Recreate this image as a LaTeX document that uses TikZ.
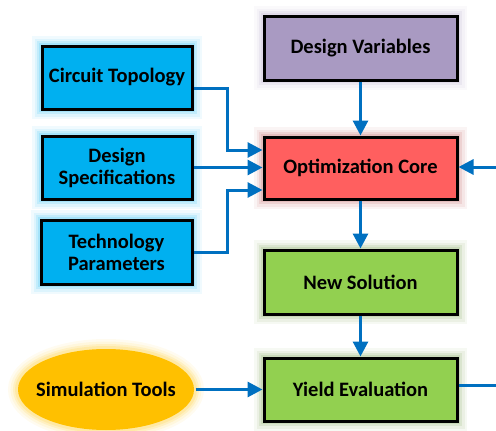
\documentclass[tikz,border=0pt]{standalone}
\usepackage{fontspec}
\setmainfont{Carlito}
\usetikzlibrary{arrows.meta,calc,shapes.geometric}
\definecolor{cblue}{HTML}{00B0F0}
\definecolor{cpurple}{HTML}{A99AC2}
\definecolor{cred}{HTML}{FF5F5F}
\definecolor{cgreen}{HTML}{92D050}
\definecolor{corange}{HTML}{FFC000}
\definecolor{carrow}{HTML}{0070C0}
\tikzset{
  glow/.style={preaction={draw=#1,line width=20pt,opacity=0.06},
               preaction={draw=#1,line width=15pt,opacity=0.08},
               preaction={draw=#1,line width=10pt,opacity=0.12},
               preaction={draw=#1,line width=6pt,opacity=0.15}},
  box/.style={draw=black,line width=3pt,inner sep=0pt,align=center,
              font=\fontsize{20.5}{22}\selectfont\bfseries},
  conn/.style={draw=carrow,line width=3pt},
  arr/.style={conn,-{Triangle[length=15pt,width=15pt]}},
}
\begin{document}
\begin{tikzpicture}[x=1pt,y=-1pt]
\useasboundingbox (0,0) rectangle (496,431);
\node[box,fill=cblue,glow=cblue,minimum width=150,minimum height=63] (ct) at (117,77.5) {Circuit Topology};
\node[box,fill=cblue,glow=cblue,minimum width=150,minimum height=63] (ds) at (117,167.5) {Design\\Specifications};
\node[box,fill=cblue,glow=cblue,minimum width=151,minimum height=64] (tp) at (116.5,252) {Technology\\Parameters};
\node[box,fill=cpurple,glow=cpurple,minimum width=193,minimum height=64] (dv) at (360.5,48) {Design Variables};
\node[box,fill=cred,glow=cred!70!black,minimum width=193,minimum height=62] (oc) at (360.5,168) {Optimization Core};
\node[box,fill=cgreen,glow=cgreen!70!black,minimum width=193,minimum height=64] (ns) at (360.5,282) {New Solution};
\node[box,fill=cgreen,glow=cgreen!70!black,minimum width=193,minimum height=63] (ye) at (360.5,389.5) {Yield Evaluation};
\node[box,draw=none,ellipse,fill=corange,glow=corange,minimum width=176,minimum height=81] (st) at (106,389.5) {\makebox[0pt]{Simulation Tools}};
\coordinate (j1) at (227,150);
\coordinate (j2) at (227,190);
\coordinate (fb1) at (496,385);
\coordinate (fb2) at (496,167);
\draw[arr] ($(ct.east)+(0,10.5)$) -| (j1) -- (j1 -| oc.west);
\draw[arr] (ds.east) -- (ds.east -| oc.west);
\draw[arr] (tp.east) -| (j2) -- (j2 -| oc.west);
\draw[arr] (dv.south) -- (oc.north);
\draw[arr] (oc.south) -- (ns.north);
\draw[arr] (ns.south) -- (ye.north);
\draw[arr] (st.east) -- (ye.west);
\draw[conn] (ye.east |- fb1) -- (fb1);
\draw[arr] (fb2) -- (fb2 -| oc.east);
\end{tikzpicture}
\end{document}
